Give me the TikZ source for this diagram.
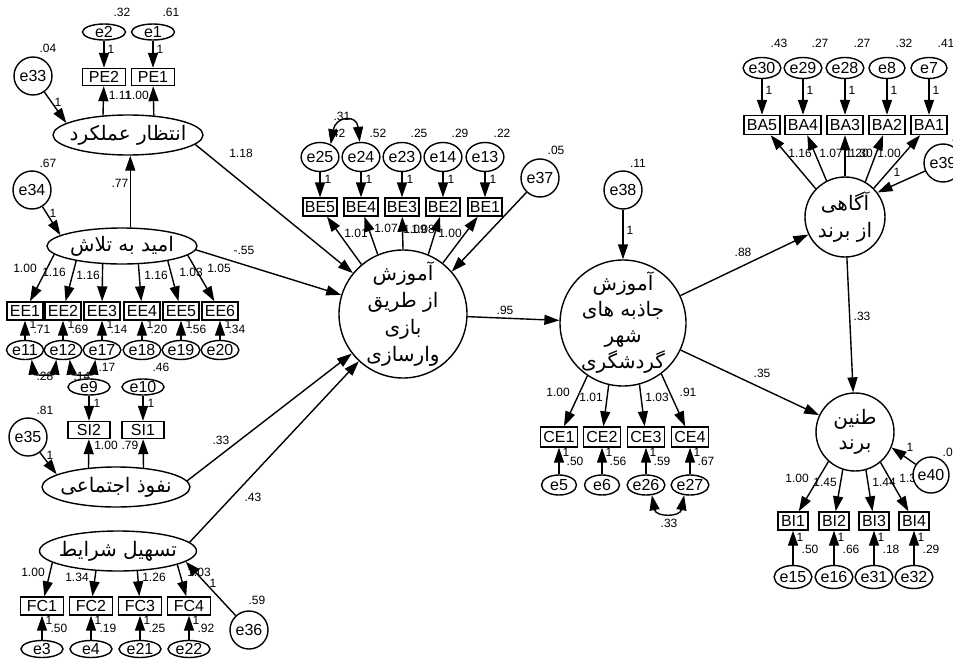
\documentclass[tikz,border=0pt]{standalone}
\usepackage{fontspec}
\setmainfont{Liberation Sans}
\newfontfamily\fafont[Script=Arabic]{DejaVu Sans}
\TeXXeTstate=1
\usetikzlibrary{arrows.meta,shapes.geometric}
\newcommand{\fa}[1]{{\fafont\beginR#1\endR}}

\begin{document}
\begin{tikzpicture}[x=1pt,y=-1pt,line width=1.4pt,>={Triangle[length=15pt,width=10pt]},
  latent/.style={draw,ellipse,fill=white,inner sep=0pt,font=\fontsize{20}{22}\selectfont},
  factor/.style={draw,circle,fill=white,inner sep=-8pt,align=center,font=\fontsize{20}{27}\selectfont},
  item/.style={draw,rectangle,fill=white,inner sep=0pt,minimum height=18pt,font=\fontsize{16}{16}\selectfont},
  err/.style={draw,ellipse,fill=white,inner sep=0pt,font=\fontsize{16}{16}\selectfont},
  errc/.style={draw,circle,fill=white,inner sep=0pt,minimum size=38pt,font=\fontsize{16}{16}\selectfont},
  num/.style={inner sep=0pt,font=\fontsize{12}{12}\selectfont}]
\useasboundingbox (0,0) rectangle (953,661);

% coefficients
\node[num] (c-pe) at (241,153) {1.18};
\node[num] (c-ee) at (244,250) {-.55};
\node[num] (c-si) at (221,440) {.33};
\node[num] (c-fc) at (253,497) {.43};
\node[num] (c-eepe) at (120,183) {.77};
\node[num] (c-gbl) at (505,310) {.95};
\node[num] (c-baw) at (743,252) {.88};
\node[num] (c-bre) at (762,373) {.35};
\node[num] (c-bawbre) at (862,316) {.33};
\foreach \nm/\x/\y/\t in {PE2/120/95/1.11, PE1/137/95/1.00,
    EE1/25/268/1.00, EE2/54/272/1.16, EE3/88/275/1.16, EE4/156/275/1.16, EE5/191/272/1.03, EE6/219/268/1.05,
    SI2/106/445/1.00, SI1/130/445/.79,
    FC1/33/572/1.00, FC2/77/577/1.34, FC3/154/577/1.26, FC4/199/572/1.03,
    BE5/356/233/1.01, BE4/386/228/1.07, BE3/415/229/1.09, BE2/423/229/1.08, BE1/450/233/1.00,
    CE1/558/392/1.00, CE2/591/397/1.01, CE3/657/397/1.03, CE4/688/392/.91,
    BA5/800/153/1.16, BA4/831/153/1.07, BA3/857/153/1.20, BA2/861/153/1.30, BA1/889/153/1.00,
    BI1/797/478/1.00, BI2/825/482/1.45, BI3/884/482/1.44, BI4/911/478/1.32}
  \node[num] (ld-\nm) at (\x,\y) {\t};
\foreach \nm/\x/\y/\t in {e33/48/48/.04, e34/48/163/.67, e35/45/410/.81, e36/257/600/.59,
    e37/556/150/.05, e38/638/163/.11, cov-e25/342/116/.31, cov-e26/669/523/.33,
    cov-e11/45/376/.28, cov-e12/82/376/.14}
  \node[num] (var-\nm) at (\x,\y) {\t};
\node[num,anchor=west] (var-e39) at (951,137) {.31};
\node[num,anchor=west] (var-e40) at (942,452) {.09};
\foreach \nm/\x/\y in {e33/58/102, e34/53/213, e35/50/455, e36/213/583, e38/630/230, e39/897/172, e40/910/447}
  \node[num] (one-\nm) at (\x,\y) {1};

% latent variables
\node[latent,minimum width=150pt,minimum height=40pt] (pe) at (128,135) {\makebox[0pt]{\fa{انتظار عملکرد}}};
\node[latent,minimum width=150pt,minimum height=36pt] (ee) at (122,246) {\makebox[0pt]{\fa{امید به تلاش}}};
\node[latent,minimum width=148pt,minimum height=40pt] (si) at (116,487) {\makebox[0pt]{\fa{نفوذ اجتماعی}}};
\node[latent,minimum width=157pt,minimum height=40pt] (fc) at (118,551) {\makebox[0pt]{\fa{تسهیل شرایط}}};
\node[factor,minimum size=128pt] (gbl) at (403,314) {\fa{آموزش}\\\fa{از طریق}\\\fa{بازی}\\\fa{وارسازی}};
\node[factor,minimum size=126pt,font=\fontsize{20}{26}\selectfont] (cea) at (623,323) {\fa{آموزش}\\\fa{جاذبه های}\\\fa{شهر}\\\fa{گردشگری}};
\node[factor,minimum size=80pt] (baw) at (845,217) {\fa{آگاهی}\\\fa{از برند}};
\node[factor,minimum size=78pt,font=\fontsize{20}{25}\selectfont] (bre) at (855,432) {\fa{طنین}\\\fa{برند}};

% structural errors
\node[errc] (e33) at (33,76) {e33};
\node[errc] (e34) at (32,190) {e34};
\node[errc] (e35) at (28,437) {e35};
\node[errc] (e36) at (249,630) {e36};
\node[errc] (e37) at (540,178) {e37};
\node[errc] (e38) at (623,190) {e38};
\node[errc] (e39) at (943,163) {e39};
\node[errc,minimum size=36pt] (e40) at (931,475) {e40};

% indicators
\foreach \n/\x/\a/\v in {2/104/142/.32, 1/153/37/.61} {
  \node[item,minimum width=43pt,minimum height=17pt] (PE\n) at (\x,77) {PE\n};
  \node[err,minimum width=43pt,minimum height=16pt] (e\n) at (\x,32) {e\n};
  \node[num] (one-e\n) at (\x+7,49) {1};
  \node[num] (var-e\n) at (\x+18,12) {\v};
  \draw[->] (e\n) -- (PE\n);
  \draw[->] (pe.\a) -- (PE\n);
}
\foreach \n/\en/\x/\a/\v in {1/11/25/187/.71, 2/12/63/198/.69, 3/17/102/223/.14, 4/18/142/312/.20, 5/19/181/342/.56, 6/20/220/352/.34} {
  \node[item,minimum width=36pt] (EE\n) at (\x,311) {EE\n};
  \node[err,minimum width=37pt,minimum height=19pt] (e\en) at (\x,350) {e\en};
  \node[num] (one-e\en) at (\x+8,324) {1};
  \node[num] (var-e\en) at (\x+17,329) {\v};
  \draw[->] (e\en) -- (EE\n);
  \draw[->] (ee.\a) -- (EE\n);
}
\foreach \n/\en/\x/\a/\v in {2/9/89/145/.17, 1/10/143/35/.46} {
  \node[item,minimum width=42pt,minimum height=17pt] (SI\n) at (\x,430) {SI\n};
  \node[err,minimum width=42pt,minimum height=16pt] (e\en) at (\x,387) {e\en};
  \node[num] (one-e\en) at (\x+8,403) {1};
  \node[num] (var-e\en) at (\x+18,367) {\v};
  \draw[->] (e\en) -- (SI\n);
  \draw[->] (si.\a) -- (SI\n);
}
\foreach \n/\en/\x/\a/\v in {1/3/42/190/.50, 2/4/91/222/.19, 3/21/140/314/.25, 4/22/189/347/.92} {
  \node[item,minimum width=43pt] (FC\n) at (\x,606) {FC\n};
  \node[err,minimum width=42pt,minimum height=17pt] (e\en) at (\x,649) {e\en};
  \node[num] (one-e\en) at (\x+7,620) {1};
  \node[num] (var-e\en) at (\x+17,628) {\v};
  \draw[->] (e\en) -- (FC\n);
  \draw[->] (fc.\a) -- (FC\n);
}
\foreach \n/\en/\x/\a/\v in {5/25/320/130/.42, 4/24/361/113/.52, 3/23/402/90/.25, 2/14/443/67/.29, 1/13/485/52/.22} {
  \node[item,minimum width=34pt] (BE\n) at (\x,207) {BE\n};
  \node[err,minimum width=36pt,minimum height=29pt] (e\en) at (\x,157) {e\en};
  \node[num] (one-e\en) at (\x+8,179) {1};
  \node[num] (var-e\en) at (\x+17,133) {\v};
  \draw[->] (e\en) -- (BE\n);
  \draw[->] (gbl.\a) -- (BE\n);
}
\foreach \n/\en/\x/\a/\v in {1/5/559/236/.50, 2/6/602/257/.56, 3/26/646/285/.59, 4/27/690/307/.67} {
  \node[item,minimum width=37pt,minimum height=20pt] (CE\n) at (\x,437) {CE\n};
  \node[err,minimum width=35pt,minimum height=20pt] (e\en) at (\x,485) {e\en};
  \node[num] (one-e\en) at (\x+7,452) {1};
  \node[num] (var-e\en) at (\x+16,461) {\v};
  \draw[->] (e\en) -- (CE\n);
  \draw[->] (cea.\a) -- (CE\n);
}
\foreach \n/\en/\x/\a/\v in {5/30/762/136/.43, 4/29/803/117/.27, 3/28/845/90/.27, 2/8/887/60/.32, 1/7/929/45/.41} {
  \node[item,minimum width=36pt,minimum height=19pt] (BA\n) at (\x,125) {BA\n};
  \node[err,minimum width=36pt,minimum height=21pt] (e\en) at (\x,68) {e\en};
  \node[num] (one-e\en) at (\x+7,90) {1};
  \node[num] (var-e\en) at (\x+17,43) {\v};
  \draw[->] (e\en) -- (BA\n);
  \draw[->] (baw.\a) -- (BA\n);
}
\foreach \n/\en/\x/\a/\v in {1/15/793/228/.50, 2/16/834/252/.66, 3/31/874/286/.18, 4/32/914/310/.29} {
  \node[item,minimum width=30pt] (BI\n) at (\x,521) {BI\n};
  \node[err,minimum width=35pt,minimum height=23pt] (e\en) at (\x,577) {e\en};
  \node[num] (one-e\en) at (\x+7,537) {1};
  \node[num] (var-e\en) at (\x+17,549) {\v};
  \draw[->] (e\en) -- (BI\n);
  \draw[->] (bre.\a) -- (BI\n);
}

% paths
\draw[->] (e33) -- (pe.169);
\draw[->] (e34) -- (ee.170);
\draw[->] (e35) -- (si.168);
\draw[->] (e36) -- (fc.351);
\draw[->] (ee.66) -- (pe.south -| ee.66);
\draw[->] (pe.352) -- (gbl);
\draw[->] (ee.357) -- (gbl);
\draw[->] (si.5) -- (gbl);
\draw[->] (fc.7) -- (gbl);
\draw[->] (e37) -- (gbl.41);
\draw[->] (gbl) -- (cea);
\draw[->] (e38) -- (cea);
\draw[->] (cea) -- (baw);
\draw[->] (cea) -- (bre);
\draw[->] (baw) -- (bre);
\draw[->] (e39) -- (baw.37);
\draw[->] (e40) -- (bre.337);

% covariances
\draw[<->] (e25.50) .. controls +(5,-28) and +(-3,-28) .. (e24.95);
\draw[<->] (e26.-60) .. controls +(4,22) and +(-4,22) .. (e27.-120);
\draw[<->] (e11.-55) .. controls +(2,16) and +(-2,16) .. (e12.-125);
\draw[<->] (e12.-55) .. controls +(2,16) and +(-2,16) .. (e17.-125);
\end{tikzpicture}
\end{document}
